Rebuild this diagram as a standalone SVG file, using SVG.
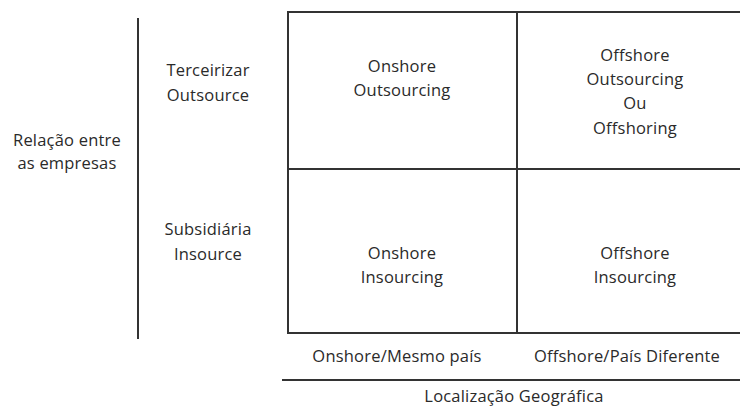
<svg xmlns="http://www.w3.org/2000/svg" width="740" height="409" viewBox="0 0 740 409">
<style>
text{font-family:"Open Sans","Liberation Sans",sans-serif;font-size:16.5px;letter-spacing:0.2px;fill:#2a2a2a;text-anchor:middle}
.ln{stroke:#333;stroke-width:2;fill:none}
</style>
<rect width="740" height="409" fill="#fff"/>
<g id="connectors">
<line class="ln" x1="138" y1="18" x2="138" y2="339"/>
<line class="ln" x1="282" y1="380" x2="740" y2="380"/>
</g>
<g id="grid">
<polyline class="ln" points="740,12 288,12 288,333 740,333"/>
<line class="ln" x1="288" y1="169" x2="740" y2="169"/>
<line class="ln" x1="517" y1="12" x2="517" y2="333"/>
</g>
<g id="axis-y"><text x="67" y="146">Relação entre</text><text x="67" y="169">as empresas</text></g>
<g id="row-out"><text x="208" y="76">Terceirizar</text><text x="208" y="101">Outsource</text></g>
<g id="row-in"><text x="208" y="235">Subsidiária</text><text x="208" y="260">Insource</text></g>
<g id="onshore-outsourcing"><text x="402" y="72">Onshore</text><text x="402" y="96">Outsourcing</text></g>
<g id="offshore-outsourcing"><text x="635" y="61">Offshore</text><text x="635" y="85">Outsourcing</text><text x="635" y="109">Ou</text><text x="635" y="134">Offshoring</text></g>
<g id="onshore-insourcing"><text x="402" y="259">Onshore</text><text x="402" y="283">Insourcing</text></g>
<g id="offshore-insourcing"><text x="635" y="259">Offshore</text><text x="635" y="283">Insourcing</text></g>
<g id="col-on"><text x="397" y="362">Onshore/Mesmo país</text></g>
<g id="col-off"><text x="627" y="362">Offshore/País Diferente</text></g>
<g id="axis-x"><text x="514" y="402">Localização Geográfica</text></g>
</svg>
